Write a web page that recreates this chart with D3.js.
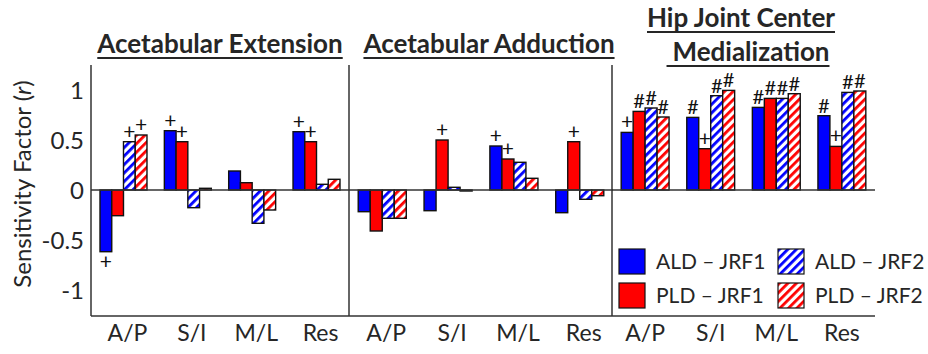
<!DOCTYPE html>
<html>
<head>
<meta charset="utf-8">
<script src="https://cdn.jsdelivr.net/npm/d3@7"></script>
<style>
  body { margin: 0; background: #fff; }
  svg { display: block; font-family: Lato, "Open Sans", sans-serif; }
</style>
</head>
<body>
<svg id="chart" width="928" height="354"></svg>
<script>
// categories and series
const categories = ["A/P", "S/I", "M/L", "Res"];
const seriesNames = ["ALD – JRF1", "PLD – JRF1", "ALD – JRF2", "PLD – JRF2"];
const yTicks = [-1, -0.5, 0, 0.5, 1];

// values per category: [ALD-JRF1, PLD-JRF1, ALD-JRF2, PLD-JRF2]
const extensionValues = [
    [-0.617, -0.257, 0.483, 0.55],
    [0.593, 0.483, -0.177, 0.017],
    [0.19, 0.073, -0.333, -0.2],
    [0.583, 0.483, 0.057, 0.107]
];
const adductionValues = [
    [-0.217, -0.41, -0.283, -0.283],
    [-0.207, 0.50, 0.027, -0.01],
    [0.44, 0.31, 0.277, 0.117],
    [-0.227, 0.483, -0.093, -0.057]
];
const medializationValues = [
    [0.576, 0.786, 0.82, 0.73],
    [0.726, 0.413, 0.943, 0.996],
    [0.826, 0.916, 0.916, 0.963],
    [0.743, 0.436, 0.976, 0.99]
];

// significance markers
const extensionMarks = [
    ["+", "", "+", "+"],
    ["+", "+", "", ""],
    ["", "", "", ""],
    ["+", "+", "", ""]
];
const adductionMarks = [
    ["", "", "", ""],
    ["", "+", "", ""],
    ["+", "+", "", ""],
    ["", "+", "", ""]
];
const medializationMarks = [
    ["+", "#", "#", "#"],
    ["#", "+", "#", "#"],
    ["#", "#", "#", "#"],
    ["#", "+", "#", "#"]
];

const svg = d3.select('#chart');
const ink = '#262626';

// hatch patterns for the JRF2 series
const defs = svg.append('defs');
[['hatch-blue', '#0000ff'], ['hatch-red', '#ff0000']].forEach(([id, col]) => {
    const p = defs.append('pattern')
        .attr('id', id)
        .attr('patternUnits', 'userSpaceOnUse')
        .attr('width', 6).attr('height', 6)
        .attr('patternTransform', 'rotate(45)');
    p.append('rect').attr('width', 6).attr('height', 6).attr('fill', '#fff');
    p.append('rect').attr('width', 2.8).attr('height', 6).attr('fill', col);
});
const fills = ['#0000ff', '#ff0000', 'url(#hatch-blue)', 'url(#hatch-red)'];

const plotTop = 65, plotBottom = 316;
const y = d3.scaleLinear().domain([-1.26, 1.25]).range([plotBottom, plotTop]);

const panels = [
    { x0: 91, x1: 349, values: extensionValues, marks: extensionMarks, shift: 4 },
    { x0: 349, x1: 613, values: adductionValues, marks: adductionMarks, shift: 4 },
    { x0: 612, x1: 875, values: medializationValues, marks: medializationMarks, shift: 0 }
];

// y axis labels
svg.append('g').selectAll('text')
    .data(yTicks)
    .enter()
    .append('text')
    .attr('x', 84)
    .attr('y', d => y(d))
    .attr('dy', '0.36em')
    .attr('text-anchor', 'end')
    .attr('font-size', 24)
    .attr('fill', ink)
    .text(d => d);

// y axis title
const yTitle = svg.append('text')
    .attr('transform', 'translate(31,184) rotate(-90)')
    .attr('text-anchor', 'middle')
    .attr('font-size', 24)
    .attr('fill', ink);
yTitle.append('tspan').text('Sensitivity Factor (');
yTitle.append('tspan').attr('font-style', 'italic').text('r');
yTitle.append('tspan').text(')');

panels.forEach(panel => {
    const x = d3.scaleBand().domain(categories).range([panel.x0, panel.x1])
        .paddingInner(0.27).paddingOuter(0.14);
    const xs = d3.scaleBand().domain(d3.range(4)).range([0, x.bandwidth()]);

    const g = svg.append('g');
    const groups = g.selectAll('g.cat')
        .data(categories)
        .enter()
        .append('g')
        .attr('transform', d => `translate(${x(d)},0)`);

    groups.selectAll('rect')
        .data((c, i) => panel.values[i].map((v, j) => ({ v, j })))
        .enter()
        .append('rect')
        .attr('x', d => xs(d.j))
        .attr('y', d => y(Math.max(0, d.v)))
        .attr('width', xs.bandwidth())
        .attr('height', d => Math.abs(y(d.v) - y(0)))
        .attr('fill', d => fills[d.j])
        .attr('stroke', '#111')
        .attr('stroke-width', 1.4);

    groups.selectAll('text.mark')
        .data((c, i) => panel.values[i].map((v, j) => ({ v, j, m: panel.marks[i][j] })).filter(d => d.m))
        .enter()
        .append('text')
        .attr('class', 'mark')
        .attr('x', d => xs(d.j) + xs.bandwidth() / 2)
        .attr('y', d => d.v >= 0 ? y(d.v) - 3 : y(d.v) + 17)
        .attr('text-anchor', 'middle')
        .attr('font-size', d => d.m === '#' ? 20 : 21)
        .attr('fill', '#111')
        .text(d => d.m);

    // zero line
    g.append('line')
        .attr('x1', panel.x0).attr('x2', panel.x1)
        .attr('y1', y(0)).attr('y2', y(0))
        .attr('stroke', '#333').attr('stroke-width', 1.5);

    // category labels
    g.selectAll('text.cat')
        .data(categories)
        .enter()
        .append('text')
        .attr('x', d => x(d) + x.bandwidth() / 2 + panel.shift)
        .attr('y', 341)
        .attr('text-anchor', 'middle')
        .attr('font-size', 23)
        .attr('fill', ink)
        .text(d => d);
});

// frame lines
const frame = svg.append('g').attr('stroke', '#333').attr('stroke-width', 1.5);
[91, 349, 612].forEach(xv => {
    frame.append('line').attr('x1', xv).attr('x2', xv).attr('y1', plotTop).attr('y2', plotBottom);
});
frame.append('line').attr('x1', 91).attr('x2', 875).attr('y1', plotBottom).attr('y2', plotBottom);

// panel titles
const titles = [
    { text: 'Acetabular Extension', x: 220, y: 53 },
    { text: 'Acetabular Adduction', x: 489, y: 53 },
    { text: 'Hip Joint Center', x: 741, y: 27 },
    { text: 'Medialization', x: 751, y: 61 }
];
titles.forEach(t => {
    const txt = svg.append('text')
        .attr('x', t.x).attr('y', t.y)
        .attr('text-anchor', 'middle')
        .attr('font-size', 26)
        .attr('font-weight', 'bold')
        .attr('fill', ink)
        .text(t.text);
    const w = txt.node().getComputedTextLength();
    svg.append('line')
        .attr('x1', t.x - w / 2 - (t.text === 'Medialization' ? 6 : 0)).attr('x2', t.x + w / 2)
        .attr('y1', t.y + 5).attr('y2', t.y + 5)
        .attr('stroke', ink).attr('stroke-width', 2);
});

// legend
const legend = svg.append('g');
const legendPos = [[619, 249], [619, 283], [778, 249], [778, 283]];
seriesNames.forEach((name, i) => {
    const [lx, ly] = legendPos[i];
    legend.append('rect')
        .attr('x', lx).attr('y', ly)
        .attr('width', 26).attr('height', 25)
        .attr('fill', fills[i])
        .attr('stroke', '#111').attr('stroke-width', 1.2);
    legend.append('text')
        .attr('x', lx + 37).attr('y', ly + 12.5)
        .attr('dy', '0.36em')
        .attr('font-size', 21)
        .attr('fill', ink)
        .text(name);
});
</script>
</body>
</html>
